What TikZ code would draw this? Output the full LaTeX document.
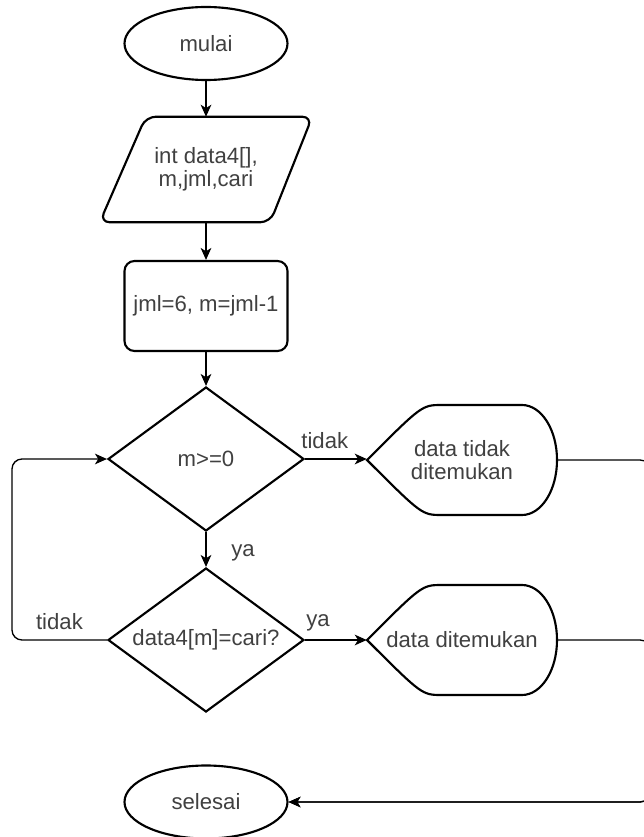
\documentclass[tikz,border=0pt]{standalone}
\usepackage{fontspec}
\setmainfont{Liberation Sans}
\usetikzlibrary{shapes.geometric,arrows.meta,calc}

\begin{document}
\begin{tikzpicture}[x=0.75pt,y=-0.75pt,
  txt/.style={font=\fontsize{16.6}{17.5}\selectfont, text=black!75, align=center},
  outline/.style={draw=black, line width=1.6pt},
  terminal/.style={txt, outline, ellipse, inner sep=0pt, minimum width=122.25pt, minimum height=54.75pt},
  process/.style={txt, outline, rectangle, rounded corners=7.5pt, inner sep=0pt, minimum width=122.25pt, minimum height=67.5pt},
  decision/.style={txt, outline, diamond, aspect=1.36, inner sep=0pt, minimum width=147pt, minimum height=108pt},
  iobox/.style={txt, inner sep=0pt, minimum width=159pt, minimum height=78.75pt},
  showbox/.style={txt, inner sep=0pt, minimum width=142.5pt, minimum height=82.5pt},
  conn/.style={draw=black, line width=1pt, rounded corners=9pt},
  arr/.style={conn, -{Stealth[length=9pt,width=8pt,inset=2.5pt]}},
  lbl/.style={txt}]

\useasboundingbox (0,0) rectangle (643,837);

% flowchart blocks
\node[terminal] (start) at (206,43.5) {mulai};
\node[iobox] (inp) at (206,169.5) {int data4[],\\m,jml,cari};
\draw[outline, rounded corners=7.5pt] (inp.south west) -- ($(inp.north west)+(46,0)$)
  -- (inp.north east) -- ($(inp.south east)+(-42,0)$) -- cycle;
\node[process] (init) at (206,306) {jml=6, m=jml-1};
\node[decision] (chk) at (206,459) {m>=0};
\node[decision] (cmp) at (206,640) {data4[m]=cari?};
\node[showbox] (miss) at (462,460) {data tidak\\ditemukan};
\node[showbox] (hit) at (462,640) {data ditemukan};
\node[terminal] (stop) at (206,802) {selesai};

% display-shaped outlines around the two result nodes
\foreach \s in {miss,hit}{
  \draw[outline, shift={(\s.center)}] (-95,0) .. controls (-40,-55) .. (-20,-55) -- (60,-55)
    .. controls (79.3,-55) and (95,-30.4) .. (95,0)
    .. controls (95,30.4) and (79.3,55) .. (60,55) -- (-20,55)
    .. controls (-40,55) .. (-95,0) -- cycle;
}

% connectors; the right-hand return line runs just past the page edge
\coordinate (lx) at (12,0);
\coordinate (rx) at (652,0);
\draw[arr] (start.south) -- (inp.north);
\draw[arr] (inp.south) -- (init.north);
\draw[arr] (init.south) -- (chk.north);
\draw[arr] (chk.south) -- node[lbl, pos=0.6, xshift=27.75pt] {ya} (cmp.north);
\draw[arr] (chk.east) -- node[lbl, pos=0.32, yshift=13.5pt] {tidak} (chk.east -| miss.west);
\draw[arr] (cmp.east) -- node[lbl, pos=0.21, yshift=12.75pt] {ya} (hit.west);
\draw[arr, rounded corners=7.5pt] (cmp.west) -- node[lbl, pos=0.5, yshift=13.5pt] {tidak} (cmp.west -| lx) |- (chk.west);
\draw[arr] (miss.east) -- (miss.east -| rx) |- (stop.east);
\draw[arr] (hit.east) -- (hit.east -| rx) |- (stop.east);
\end{tikzpicture}
\end{document}
